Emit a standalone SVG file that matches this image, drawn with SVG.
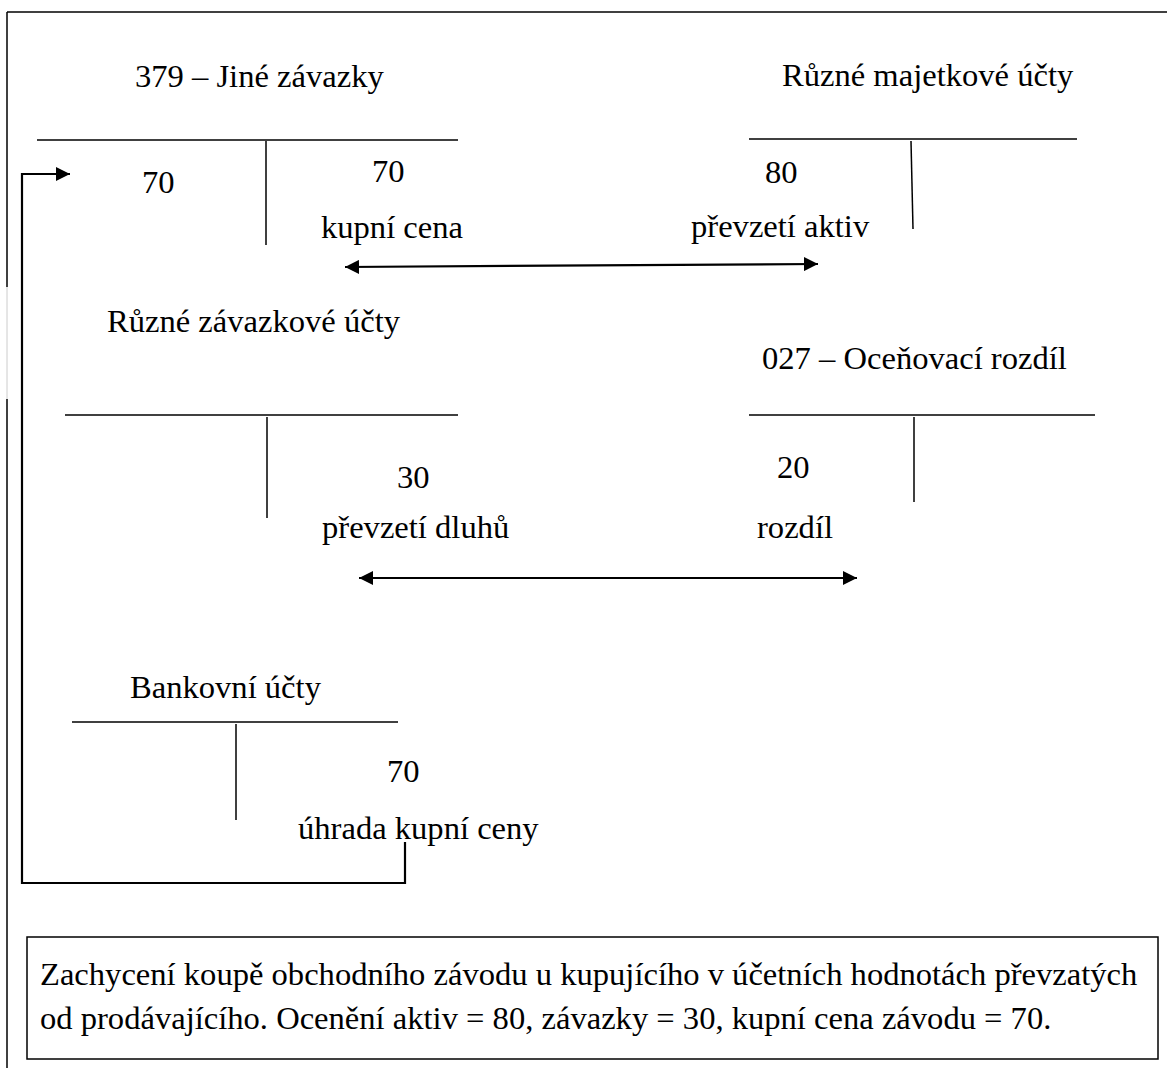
<svg xmlns="http://www.w3.org/2000/svg" width="1167" height="1068" viewBox="0 0 1167 1068" font-family="'Liberation Serif', 'Times New Roman', Times, serif">
<style>
text{font-family:'Liberation Serif','Times New Roman',Times,serif;font-size:32.6px;fill:#000}
.t{stroke:#000;stroke-width:1.5;fill:none}
.c{stroke:#000;stroke-width:2.2;fill:none}
</style>
<defs>
<marker id="ah" viewBox="0 0 14 14" refX="14" refY="7" markerWidth="14" markerHeight="14" markerUnits="userSpaceOnUse" orient="auto-start-reverse">
<path d="M0,0 L14,7 L0,14 z" fill="#000"/>
</marker>
</defs>
<rect width="1167" height="1068" fill="#fff"/>
<g id="frame">
<line class="t" x1="7" y1="12" x2="1167" y2="12"/>
<line class="t" x1="7" y1="12" x2="7" y2="287"/>
<line x1="7" y1="287" x2="7" y2="399" stroke="#ccc" stroke-width="1"/>
<line class="t" x1="7" y1="399" x2="7" y2="1068"/>
</g>
<g id="acc379">
<text x="135" y="87">379 – Jiné závazky</text>
<line class="t" x1="37" y1="140" x2="458" y2="140"/>
<line class="t" x1="266" y1="141" x2="266" y2="245"/>
<text x="142" y="193">70</text>
<text x="372" y="182">70</text>
<text x="321" y="238">kupní cena</text>
</g>
<g id="accMajetek">
<text x="782" y="86">Různé majetkové účty</text>
<line class="t" x1="749" y1="139" x2="1077" y2="139"/>
<line class="t" x1="911" y1="141" x2="913" y2="229"/>
<text x="765" y="183">80</text>
<text x="691" y="237">převzetí aktiv</text>
</g>
<g id="accZavazky">
<text x="107" y="332">Různé závazkové účty</text>
<line class="t" x1="65" y1="415" x2="458" y2="415"/>
<line class="t" x1="267" y1="417" x2="267" y2="518"/>
<text x="397" y="488">30</text>
<text x="322" y="538">převzetí dluhů</text>
</g>
<g id="acc027">
<text x="762" y="369">027 – Oceňovací rozdíl</text>
<line class="t" x1="749" y1="415" x2="1095" y2="415"/>
<line class="t" x1="914" y1="417" x2="914" y2="502"/>
<text x="777" y="478">20</text>
<text x="757" y="538">rozdíl</text>
</g>
<g id="accBanka">
<text x="130" y="698">Bankovní účty</text>
<line class="t" x1="72" y1="722" x2="398" y2="722"/>
<line class="t" x1="236" y1="724" x2="236" y2="820"/>
<text x="387" y="782">70</text>
<text x="298" y="839">úhrada kupní ceny</text>
</g>
<g id="note">
<rect x="27" y="937" width="1131" height="122" fill="none" stroke="#000" stroke-width="1.5"/>
<text x="40" y="985">Zachycení koupě obchodního závodu u kupujícího v účetních hodnotách převzatých</text>
<text x="40" y="1029">od prodávajícího. Ocenění aktiv = 80, závazky = 30, kupní cena závodu = 70.</text>
</g>
<g id="connectors">
<line class="c" x1="345" y1="267" x2="818" y2="264" marker-start="url(#ah)" marker-end="url(#ah)"/>
<line class="c" x1="359" y1="578" x2="857" y2="578" marker-start="url(#ah)" marker-end="url(#ah)"/>
<polyline class="c" points="405,842 405,883 22,883 22,174 70,174" marker-end="url(#ah)"/>
</g>
</svg>
